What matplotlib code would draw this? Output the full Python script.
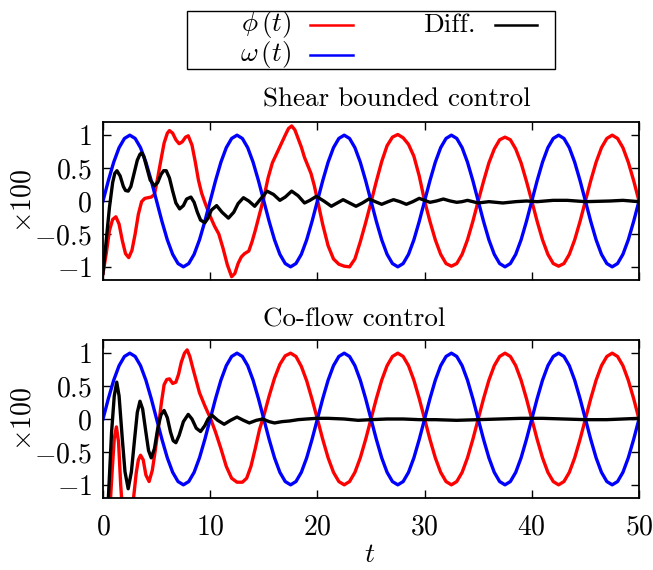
import numpy as np
import matplotlib
matplotlib.use('Agg')
import matplotlib.pyplot as plt
from matplotlib.lines import Line2D

# LaTeX-like look (gnuplot epslatex style)
plt.rcParams['font.family'] = 'cmr10'
plt.rcParams['mathtext.fontset'] = 'cm'
plt.rcParams['axes.formatter.use_mathtext'] = True
plt.rcParams['axes.unicode_minus'] = True

# ---------------- data ----------------
t_grid = np.linspace(0, 50, 101)

omega = [
    0.00, 0.31, 0.59, 0.81, 0.95, 1.00, 0.95, 0.81, 0.59, 0.31,
    0.00, -0.31, -0.59, -0.81, -0.95, -1.00, -0.95, -0.81, -0.59, -0.31,
    0.00, 0.31, 0.59, 0.81, 0.95, 1.00, 0.95, 0.81, 0.59, 0.31,
    0.00, -0.31, -0.59, -0.81, -0.95, -1.00, -0.95, -0.81, -0.59, -0.31,
    0.00, 0.31, 0.59, 0.81, 0.95, 1.00, 0.95, 0.81, 0.59, 0.31,
    0.00, -0.31, -0.59, -0.81, -0.95, -1.00, -0.95, -0.81, -0.59, -0.31,
    0.00, 0.31, 0.59, 0.81, 0.95, 1.00, 0.95, 0.81, 0.59, 0.31,
    0.00, -0.31, -0.59, -0.81, -0.95, -1.00, -0.95, -0.81, -0.59, -0.31,
    0.00, 0.31, 0.59, 0.81, 0.95, 1.00, 0.95, 0.81, 0.59, 0.31,
    0.00, -0.31, -0.59, -0.81, -0.95, -1.00, -0.95, -0.81, -0.59, -0.31,
    0.00,
]

# Shear bounded control
t_phi_shear = [
    0.0, 0.3, 0.6, 0.9, 1.2, 1.5, 1.8, 2.1, 2.4, 2.7, 3.0, 3.3, 3.6, 3.9,
    4.2, 4.5, 4.8, 5.1, 5.4, 5.7, 6.0, 6.2, 6.5, 6.8, 7.1, 7.4, 7.7, 7.95,
    8.3, 8.6, 8.9, 9.2, 9.5, 9.8, 10.1, 10.4, 10.8, 11.2, 11.6, 12.0, 12.3,
    12.6, 12.9, 13.2, 13.6, 13.9, 14.2, 14.6, 15.0, 15.4, 15.8, 16.2, 16.6,
    17.0, 17.3, 17.6, 17.9, 18.2, 18.5, 18.8, 19.1, 19.4, 19.7, 20.0, 20.5,
    21.0, 21.5, 22.0, 22.5, 23.0, 23.5, 24.0, 24.5, 25.0, 25.5, 26.0, 26.5,
    27.0, 27.5, 28.0, 28.5, 29.0, 29.5, 30.0, 30.5, 31.0, 31.5, 32.0, 32.5,
    33.0, 33.5, 34.0, 34.5, 35.0, 35.5, 36.0, 36.5, 37.0, 37.5, 38.0, 38.5,
    39.0, 39.5, 40.0, 40.5, 41.0, 41.5, 42.0, 42.5, 43.0, 43.5, 44.0, 44.5,
    45.0, 45.5, 46.0, 46.5, 47.0, 47.5, 48.0, 48.5, 49.0, 49.5, 50.0,
]
phi_shear = [
    -1.10, -0.80, -0.45, -0.28, -0.24, -0.35, -0.60, -0.80, -0.86, -0.75,
    -0.50, -0.20, -0.01, 0.04, 0.05, 0.06, 0.10, 0.35, 0.62, 0.88, 1.03,
    1.07, 1.03, 0.93, 0.87, 0.90, 0.97, 0.99, 0.85, 0.60, 0.32, 0.12, -0.02,
    -0.15, -0.27, -0.38, -0.50, -0.72, -0.97, -1.15, -1.10, -0.95, -0.85,
    -0.80, -0.76, -0.62, -0.45, -0.20, 0.05, 0.35, 0.58, 0.72, 0.86, 1.00,
    1.10, 1.14, 1.08, 0.95, 0.82, 0.66, 0.54, 0.42, 0.24, 0.02, -0.36,
    -0.68, -0.88, -0.96, -0.99, -1.00, -0.88, -0.62, -0.33, -0.02, 0.30,
    0.60, 0.84, 0.97, 1.01, 0.96, 0.86, 0.68, 0.38, 0.00, -0.31, -0.59,
    -0.81, -0.95, -0.99, -0.95, -0.81, -0.59, -0.31, 0.00, 0.30, 0.58, 0.79,
    0.93, 0.97, 0.93, 0.79, 0.58, 0.30, 0.00, -0.31, -0.59, -0.81, -0.95,
    -0.99, -0.95, -0.81, -0.59, -0.31, 0.00, 0.31, 0.59, 0.81, 0.95, 1.00,
    0.95, 0.81, 0.59, 0.31, 0.00,
]
t_diff_shear = [
    0.0, 0.3, 0.6, 0.9, 1.1, 1.3, 1.6, 1.9, 2.1, 2.35, 2.6, 2.9, 3.2, 3.45,
    3.6, 3.8, 4.1, 4.4, 4.8, 5.1, 5.4, 5.65, 5.9, 6.2, 6.5, 6.8, 7.15, 7.5,
    7.8, 8.2, 8.5, 8.8, 9.1, 9.5, 9.8, 10.1, 10.6, 11.1, 11.7, 12.2, 12.6,
    13.1, 13.6, 14.15, 14.7, 15.3, 15.9, 16.5, 17.0, 17.6, 18.2, 18.8, 19.3,
    19.9, 20.6, 21.3, 21.85, 22.4, 23.0, 23.6, 24.2, 24.8, 25.4, 26.0, 26.6,
    27.1, 27.7, 28.3, 28.9, 29.5, 30.0, 30.5, 31.1, 31.75, 32.4, 33.0, 33.5,
    34.0, 35.0, 36.0, 37.3, 38.5, 39.5, 40.5, 42.0, 43.3, 45.0, 47.3, 48.5,
    50.0,
]
diff_shear = [
    -1.10, -0.60, -0.10, 0.28, 0.42, 0.46, 0.38, 0.22, 0.16, 0.15, 0.22,
    0.42, 0.62, 0.71, 0.73, 0.68, 0.50, 0.32, 0.23, 0.28, 0.40, 0.46, 0.46,
    0.35, 0.15, -0.03, -0.12, -0.07, 0.03, 0.06, -0.02, -0.17, -0.29, -0.33,
    -0.26, -0.14, -0.07, -0.17, -0.26, -0.17, -0.04, 0.05, 0.00, -0.08,
    0.03, 0.15, 0.10, 0.01, 0.06, 0.15, 0.08, -0.03, 0.01, 0.07, 0.00,
    -0.08, -0.03, 0.02, -0.03, -0.08, -0.03, 0.03, -0.01, -0.05, -0.01,
    0.02, -0.01, -0.05, -0.01, 0.04, 0.01, -0.02, 0.00, 0.03, 0.00, -0.02,
    -0.01, 0.01, -0.03, -0.01, -0.03, -0.01, 0.00, -0.01, 0.01, 0.01,
    -0.01, 0.00, 0.01, -0.01,
]

# Co-flow control
t_phi_coflow = [
    0.0, 0.6, 0.85, 1.05, 1.25, 1.45, 1.65, 1.9, 2.2, 2.6, 2.85, 3.1, 3.3,
    3.5, 3.75, 4.0, 4.3, 4.6, 4.9, 5.2, 5.45, 5.7, 5.95, 6.2, 6.5, 6.8,
    7.05, 7.3, 7.6, 7.85, 8.1, 8.4, 8.7, 9.0, 9.5, 10.0, 10.5, 11.0, 11.5,
    12.0, 12.5, 13.0, 13.4, 13.8, 14.2, 14.6, 15.0, 15.5, 16.0, 16.5, 17.0,
    17.5, 18.0, 18.5, 19.0, 19.5, 20.0, 20.5, 21.0, 21.5, 22.0, 22.5, 23.0,
    23.5, 24.0, 24.5, 25.0, 25.5, 26.0, 26.5, 27.0, 27.5, 28.0, 28.5, 29.0,
    29.5, 30.0, 30.5, 31.0, 31.5, 32.0, 32.5, 33.0, 33.5, 34.0, 34.5, 35.0,
    35.5, 36.0, 36.5, 37.0, 37.5, 38.0, 38.5, 39.0, 39.5, 40.0, 40.5, 41.0,
    41.5, 42.0, 42.5, 43.0, 43.5, 44.0, 44.5, 45.0, 45.5, 46.0, 46.5, 47.0,
    47.5, 48.0, 48.5, 49.0, 49.5, 50.0,
]
phi_coflow = [
    -2.00, -1.50, -0.80, -0.30, -0.12, -0.35, -1.00, -1.60, -1.80, -1.60,
    -1.20, -0.82, -0.62, -0.55, -0.62, -0.85, -0.95, -0.78, -0.45, -0.08,
    0.25, 0.52, 0.60, 0.61, 0.54, 0.56, 0.68, 0.86, 1.00, 1.05, 0.95, 0.76,
    0.58, 0.40, 0.20, 0.02, -0.20, -0.45, -0.72, -0.90, -0.96, -0.96,
    -0.90, -0.72, -0.45, -0.16, 0.05, 0.35, 0.62, 0.83, 0.96, 1.00, 0.95,
    0.80, 0.58, 0.30, 0.00, -0.31, -0.59, -0.81, -0.95, -1.00, -0.95,
    -0.81, -0.59, -0.31, 0.00, 0.31, 0.59, 0.81, 0.95, 1.00, 0.95, 0.81,
    0.59, 0.31, 0.00, -0.31, -0.59, -0.81, -0.95, -1.00, -0.95, -0.81,
    -0.59, -0.31, 0.00, 0.31, 0.59, 0.81, 0.95, 1.00, 0.95, 0.81, 0.59,
    0.31, 0.00, -0.31, -0.59, -0.81, -0.95, -1.00, -0.95, -0.81, -0.59,
    -0.31, 0.00, 0.31, 0.59, 0.81, 0.95, 1.00, 0.95, 0.81, 0.59, 0.31, 0.00,
]
t_diff_coflow = [
    0.0, 0.5, 0.8, 1.05, 1.28, 1.5, 1.8, 2.05, 2.35, 2.65, 2.95, 3.2, 3.45,
    3.7, 4.0, 4.25, 4.5, 4.8, 5.1, 5.4, 5.7, 6.0, 6.3, 6.55, 6.8, 7.1, 7.5,
    7.95, 8.3, 8.7, 9.1, 9.5, 9.8, 10.15, 10.7, 11.3, 11.9, 12.5, 13.1,
    13.65, 14.3, 14.9, 15.5, 16.0, 16.7, 17.4, 18.2, 19.0, 19.9, 21.0,
    22.5, 23.8, 25.0, 26.5, 28.0, 29.5, 31.0, 33.0, 35.0, 37.0, 39.0, 41.0,
    43.0, 45.0, 47.0, 48.5, 50.0,
]
diff_coflow = [
    -2.00, -1.20, -0.20, 0.35, 0.56, 0.35, -0.30, -0.80, -1.06, -0.80,
    -0.30, 0.10, 0.27, 0.15, -0.20, -0.48, -0.59, -0.45, -0.15, 0.06, 0.13,
    0.02, -0.20, -0.33, -0.36, -0.25, -0.04, 0.07, 0.00, -0.14, -0.19,
    -0.10, 0.00, 0.06, -0.02, -0.08, -0.02, 0.03, -0.02, -0.06, -0.02,
    0.00, -0.04, -0.06, -0.04, -0.03, -0.01, 0.00, 0.01, 0.01, 0.00, -0.02,
    -0.01, 0.00, 0.00, -0.01, -0.01, -0.02, -0.01, 0.00, 0.01, 0.01, 0.00,
    -0.01, -0.01, 0.00, 0.01,
]

panel_titles = ['Shear bounded control', 'Co-flow control']
x_ticks = [0, 10, 20, 30, 40, 50]
y_ticks = [-1, -0.5, 0, 0.5, 1]
y_ticklabels = [r'$-1$', r'$-0.5$', r'$0$', r'$0.5$', r'$1$']

RED = '#ff0000'
BLUE = '#0000ff'
LW = 2.4
FS = 19.5      # titles / key
FS_TICK = 20   # tick labels

W, H = 653, 570
fig = plt.figure(figsize=(W / 100, H / 100), dpi=100)


def px_box(left, top, right, bottom):
    return [left / W, 1 - bottom / H, (right - left) / W, (bottom - top) / H]


ax1 = fig.add_axes(px_box(103, 122, 639, 280))
ax2 = fig.add_axes(px_box(103, 340, 639, 498))

panels = [
    (ax1, t_phi_shear, phi_shear, t_diff_shear, diff_shear),
    (ax2, t_phi_coflow, phi_coflow, t_diff_coflow, diff_coflow),
]
for ax, tp, ph, td, df in panels:
    ax.plot(tp, ph, color=RED, lw=LW, solid_joinstyle='round')
    ax.plot(t_grid, omega, color=BLUE, lw=LW, solid_joinstyle='round')
    ax.plot(td, df, color='black', lw=LW, solid_joinstyle='round')
    ax.set_xlim(0, 50)
    ax.set_ylim(-1.2, 1.2)
    ax.set_xticks(x_ticks)
    ax.set_yticks(y_ticks)
    ax.set_yticklabels(y_ticklabels)
    ax.tick_params(direction='in', top=True, right=True, length=6, width=1,
                   labelsize=FS_TICK, pad=8)
    for s in ax.spines.values():
        s.set_linewidth(1.3)
    ax.set_ylabel(r'$\times 100$', fontsize=FS_TICK, va='center')
    ax.yaxis.set_label_coords(-0.149, 0.5)

ax1.tick_params(labelbottom=False)
ax2.tick_params(axis='x', pad=12)
ax2.set_xticklabels([r'$%d$' % v for v in x_ticks])
ax2.set_xlabel(r'$t$', fontsize=FS_TICK, va='center')
ax2.xaxis.set_label_coords(0.498, -0.36)

# panel titles (left anchored like the gnuplot output)
fig.text(263 / W, 1 - 100 / H, panel_titles[0], fontsize=FS, ha='left', va='center')
fig.text(263 / W, 1 - 320 / H, panel_titles[1], fontsize=FS, ha='left', va='center')

# gnuplot-style key box at the top
fig.patches.append(plt.Rectangle((187 / W, 1 - 69 / H), (555 - 187) / W, 58 / H,
                                 transform=fig.transFigure, fill=False,
                                 edgecolor='black', lw=1.0))
key = [
    (r'$\phi\,(t)$', RED, 291, 310, 353, 25),
    (r'$\omega\,(t)$', BLUE, 291, 310, 353, 55),
    ('Diff.', 'black', 476, 495, 537, 25),
]
for label, col, xt, x0, x1, yc in key:
    fig.text(xt / W, 1 - yc / H, label, fontsize=FS, ha='right', va='center')
    fig.lines.append(Line2D([x0 / W, x1 / W], [1 - yc / H, 1 - yc / H],
                            transform=fig.transFigure, color=col, lw=1.8))

fig.savefig('out.png', dpi=100)
